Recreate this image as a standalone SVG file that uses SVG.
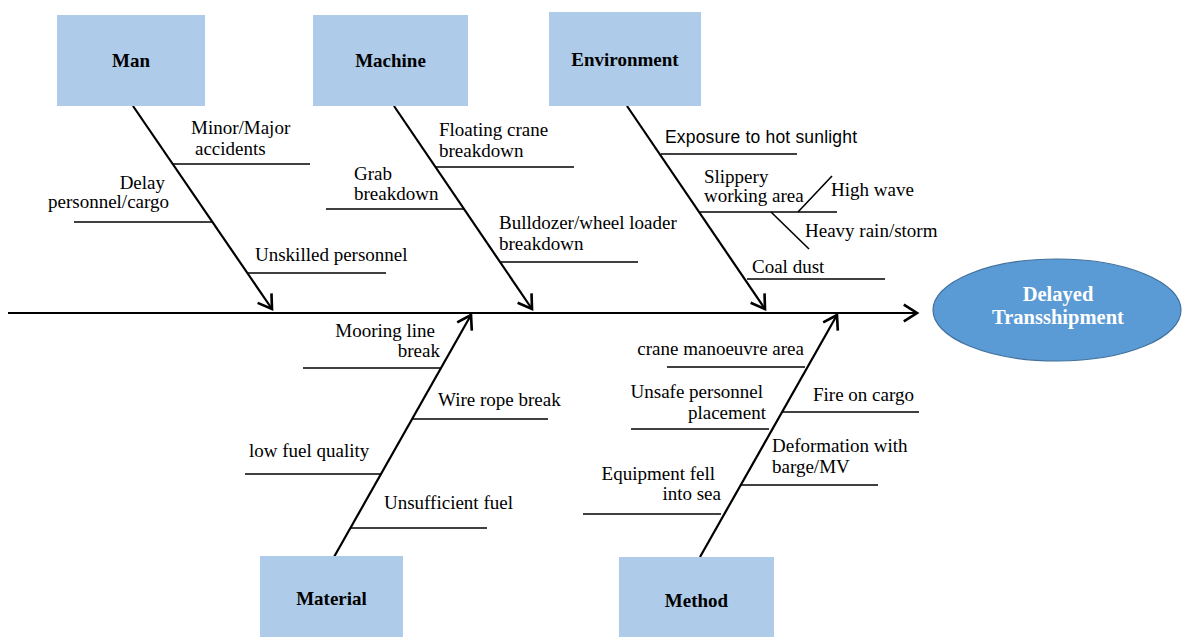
<svg xmlns="http://www.w3.org/2000/svg" width="1183" height="637" viewBox="0 0 1183 637">
<style>
.box{fill:#AECBEA;stroke:none}
.cat{font-family:"Liberation Serif","Times New Roman",serif;font-weight:bold;font-size:19px;fill:#000;text-anchor:middle}
.t{font-family:"Liberation Serif","Times New Roman",serif;font-size:19px;fill:#000}
.s{font-family:"Liberation Sans",Arial,sans-serif;font-size:17.5px;fill:#000}
.e{text-anchor:end}
.bone{stroke:#000;stroke-width:2.2;fill:none}
.sub{stroke:#000;stroke-width:1.6;fill:none}
.res{font-family:"Liberation Serif","Times New Roman",serif;font-weight:bold;font-size:20.5px;fill:#fff;text-anchor:middle}
</style>
<defs>
<marker id="arr" markerUnits="userSpaceOnUse" markerWidth="24" markerHeight="24" viewBox="-14 -10 16 20" refX="0" refY="0" orient="auto">
<path d="M-11,-7 L0,0 L-11,7" fill="none" stroke="#000" stroke-width="2.2"/>
</marker>
</defs>
<rect width="1183" height="637" fill="#fff"/>
<g id="connectors">
<line class="bone" x1="8" y1="313" x2="917" y2="313" marker-end="url(#arr)"/>
<line class="bone" x1="133" y1="106" x2="272" y2="309" marker-end="url(#arr)"/>
<line class="bone" x1="394" y1="106" x2="532" y2="309" marker-end="url(#arr)"/>
<line class="bone" x1="627" y1="106" x2="765" y2="309" marker-end="url(#arr)"/>
<line class="bone" x1="334" y1="557" x2="471" y2="315" marker-end="url(#arr)"/>
<line class="bone" x1="700" y1="557" x2="837" y2="315" marker-end="url(#arr)"/>
<line class="sub" x1="173" y1="164" x2="310" y2="164"/>
<line class="sub" x1="74" y1="222" x2="212" y2="222"/>
<line class="sub" x1="247" y1="273" x2="386" y2="273"/>
<line class="sub" x1="436" y1="167" x2="574" y2="167"/>
<line class="sub" x1="326" y1="209" x2="464" y2="209"/>
<line class="sub" x1="501" y1="262" x2="638" y2="262"/>
<line class="sub" x1="661" y1="154" x2="797" y2="154"/>
<line class="sub" x1="700" y1="212" x2="837" y2="212"/>
<line class="sub" x1="798" y1="212" x2="832" y2="176"/>
<line class="sub" x1="771" y1="212" x2="809" y2="249"/>
<line class="sub" x1="747" y1="279" x2="885" y2="279"/>
<line class="sub" x1="303" y1="368" x2="441" y2="368"/>
<line class="sub" x1="412" y1="419" x2="548" y2="419"/>
<line class="sub" x1="245" y1="474" x2="382" y2="474"/>
<line class="sub" x1="351" y1="528" x2="487" y2="528"/>
<line class="sub" x1="667" y1="367" x2="805" y2="367"/>
<line class="sub" x1="631" y1="429" x2="769" y2="429"/>
<line class="sub" x1="782" y1="412" x2="919" y2="412"/>
<line class="sub" x1="740" y1="485" x2="878" y2="485"/>
<line class="sub" x1="583" y1="514" x2="721" y2="514"/>
</g>
<g id="man">
<rect class="box" x="57" y="15" width="148" height="91"/>
<text class="cat" x="131" y="67">Man</text>
</g>
<g id="machine">
<rect class="box" x="313" y="15" width="155" height="91"/>
<text class="cat" x="390.5" y="67">Machine</text>
</g>
<g id="environment">
<rect class="box" x="549" y="12" width="152" height="94"/>
<text class="cat" x="625" y="66">Environment</text>
</g>
<g id="material">
<rect class="box" x="260" y="556" width="143" height="81"/>
<text class="cat" x="331.5" y="605">Material</text>
</g>
<g id="method">
<rect class="box" x="619" y="557" width="155" height="80"/>
<text class="cat" x="696.5" y="607">Method</text>
</g>
<g id="result">
<ellipse cx="1057" cy="310" rx="124" ry="51" fill="#5B9BD5" stroke="#41719C" stroke-width="1.2"/>
<text class="res" x="1058" y="301">Delayed</text>
<text class="res" x="1058" y="324">Transshipment</text>
</g>
<g id="man-causes">
<text class="t" x="191" y="134">Minor/Major</text>
<text class="t" x="195" y="155">accidents</text>
<text class="t e" x="165" y="189">Delay</text>
<text class="t e" x="169" y="208">personnel/cargo</text>
<text class="t" x="255" y="261">Unskilled personnel</text>
</g>
<g id="machine-causes">
<text class="t" x="439" y="136">Floating crane</text>
<text class="t" x="439" y="157">breakdown</text>
<text class="t" x="354" y="180">Grab</text>
<text class="t" x="354" y="200">breakdown</text>
<text class="t" x="499" y="229">Bulldozer/wheel loader</text>
<text class="t" x="499" y="250">breakdown</text>
</g>
<g id="environment-causes">
<text class="s" x="665" y="143" textLength="192">Exposure to hot sunlight</text>
<text class="t" x="704" y="183">Slippery</text>
<text class="t" x="704" y="202">working area</text>
<text class="t" x="831" y="196">High wave</text>
<text class="t" x="805" y="237">Heavy rain/storm</text>
<text class="t" x="752" y="273">Coal dust</text>
</g>
<g id="material-causes">
<text class="t e" x="435" y="337">Mooring line</text>
<text class="t e" x="440" y="357">break</text>
<text class="t" x="438" y="406">Wire rope break</text>
<text class="t" x="249" y="457">low fuel quality</text>
<text class="t" x="384" y="509">Unsufficient fuel</text>
</g>
<g id="method-causes">
<text class="t e" x="804" y="355">crane manoeuvre area</text>
<text class="t e" x="763" y="398">Unsafe personnel</text>
<text class="t e" x="766" y="419">placement</text>
<text class="t" x="813" y="401">Fire on cargo</text>
<text class="t" x="772" y="452">Deformation with</text>
<text class="t" x="772" y="473">barge/MV</text>
<text class="t e" x="715" y="480">Equipment fell</text>
<text class="t e" x="721" y="500">into sea</text>
</g>
</svg>
